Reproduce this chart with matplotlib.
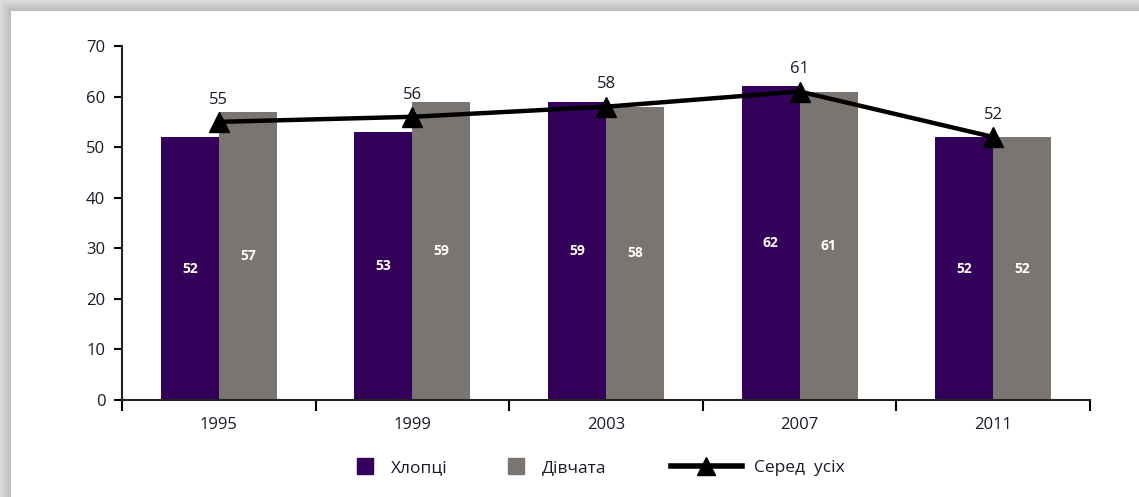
import numpy as np
import matplotlib.pyplot as plt
from matplotlib.lines import Line2D

plt.rcParams['font.family'] = ['Open Sans', 'DejaVu Sans']

# data
years = ["1995", "1999", "2003", "2007", "2011"]
boys = [52, 53, 59, 62, 52]
girls = [57, 59, 58, 61, 52]
overall = [55, 56, 58, 61, 52]

purple = "#33005a"
grey = "#7a7571"
txt = "#1a1a2a"

fig = plt.figure(figsize=(11.39, 4.97), dpi=100)

# frame shadow (top and left bands)
bg = fig.add_axes([0, 0, 1, 1], zorder=-5)
H, W = 497, 1139
img = np.ones((H, W))
band = 10
for i in range(band + 1):
    v = 0.86 - 0.12 * i / band
    img[i, i:] = np.minimum(img[i, i:], v)
    img[i:, i] = np.minimum(img[i:, i], v)
bg.imshow(img, cmap="gray", vmin=0, vmax=1, aspect="auto", interpolation="bilinear")
bg.axis("off")

ax = fig.add_axes([122 / 1139, 1 - 400 / 497, 968 / 1139, 354 / 497])
x = np.arange(len(years))
w = 0.30

b1 = ax.bar(x - w / 2, boys, w, color=purple, zorder=2)
b2 = ax.bar(x + w / 2, girls, w, color=grey, zorder=2)

for bars, vals in [(b1, boys), (b2, girls)]:
    for r, v in zip(bars, vals):
        ax.text(r.get_x() + r.get_width() / 2, v / 2, str(v), ha="center", va="center",
                color="white", fontsize=10, fontweight="bold", zorder=4)

ax.plot(x, overall, color="black", lw=3.2, marker="^", ms=15, zorder=3)
for xi, v in zip(x, overall):
    ax.annotate(str(v), (xi, v), xytext=(0, 16), textcoords="offset points",
                ha="center", va="center", fontsize=12, color=txt)

ax.set_xlim(-0.5, 4.5)
ax.set_ylim(0, 70)
ax.set_yticks(range(0, 71, 10))
ax.set_xticks(np.arange(-0.5, 5, 1))
ax.set_xticklabels([])
ax.set_xticks(x, minor=True)
ax.set_xticklabels(years, minor=True)
ax.tick_params(axis="x", which="major", length=8, width=1.5, direction="out")
ax.tick_params(axis="x", which="minor", length=0, pad=12, labelsize=12, labelcolor=txt)
ax.tick_params(axis="y", length=6, width=1.5, labelsize=12, pad=6, labelcolor=txt)
for s in ["top", "right"]:
    ax.spines[s].set_visible(False)
for s in ["left", "bottom"]:
    ax.spines[s].set_linewidth(1.5)
    ax.spines[s].set_color("#222222")
ax.set_facecolor("none")

# legends
h1 = [Line2D([], [], ls="none", marker="s", ms=11, color=purple),
      Line2D([], [], ls="none", marker="s", ms=11, color=grey)]
leg1 = fig.legend(h1, ["Хлопці", "Дівчата"], loc="center left", bbox_to_anchor=(341 / 1139, 1 - 468 / 497),
                  ncol=2, frameon=False, handlelength=1, handletextpad=1.0, columnspacing=3.4, fontsize=12.5)
h2 = [Line2D([], [], color="black", lw=4, marker="^", ms=13)]
leg2 = fig.legend(h2, ["Серед  усіх"], loc="center left", bbox_to_anchor=(655 / 1139, 1 - 468 / 497),
                  frameon=False, handlelength=4.1, handletextpad=0.7, fontsize=12.5)
for t in leg1.get_texts() + leg2.get_texts():
    t.set_color(txt)

plt.savefig("out.png", dpi=100)
